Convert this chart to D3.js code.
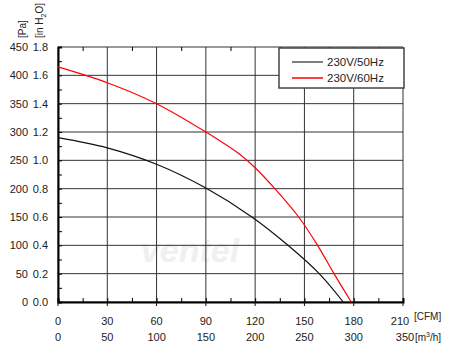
<!DOCTYPE html>
<html>
<head>
<meta charset="utf-8">
<script src="https://cdn.jsdelivr.net/npm/d3@7"></script>
<style>
  body { margin: 0; background: #fff; }
  text { font-family: "Liberation Sans", Arial, sans-serif; fill: #222; }
</style>
</head>
<body>
<div id="chart"></div>
<script>
// values (CFM, Pa)
var cfm50 = [0, 30, 60, 90, 118, 140, 159, 173.6];
var pa50  = [290, 272, 243, 201, 150, 100, 50, 0];
var cfm60 = [0, 30, 60, 90, 110, 120, 132, 146.5, 158, 168, 178.5];
var pa60  = [415, 387, 350, 300, 262, 237, 200, 150, 100, 50, 0];

var cfmTicks = [0, 30, 60, 90, 120, 150, 180, 210];
var m3hTicks = [0, 50, 100, 150, 200, 250, 300, 350];
var paTicks = [0, 50, 100, 150, 200, 250, 300, 350, 400, 450];
var inh2oTicks = [0.0, 0.2, 0.4, 0.6, 0.8, 1.0, 1.2, 1.4, 1.6, 1.8];

var seriesNames = ["230V/50Hz", "230V/60Hz"];
var seriesColors = ["#111", "#ff0000"];
var legendColors = ["#555", "#ff0000"];

var W = 450, H = 347;
var mLeft = 58, mRight = 403, mTop = 47, mBottom = 302;

var svg = d3.select("#chart").append("svg").attr("width", W).attr("height", H);

var x = d3.scaleLinear().domain([0, 210]).range([mLeft, mRight]);
var xm = d3.scaleLinear().domain([0, 350]).range([mLeft, mRight]);
var y = d3.scaleLinear().domain([0, 450]).range([mBottom, mTop]);

//---------------------------------------------------------------------
// watermark
svg.append("text").attr("x", 190).attr("y", 262)
  .attr("text-anchor", "middle")
  .style("font-size", "34px").style("font-style", "italic").style("font-weight", "bold")
  .style("fill", "#f0f0f0").text("ventel");

//---------------------------------------------------------------------
// grid
svg.append("g").selectAll("line").data(cfmTicks).enter().append("line")
  .attr("x1", d => x(d)).attr("x2", d => x(d))
  .attr("y1", mTop).attr("y2", mBottom)
  .style("stroke", "#333").style("stroke-width", 1);
svg.append("g").selectAll("line").data(paTicks).enter().append("line")
  .attr("x1", mLeft).attr("x2", mRight)
  .attr("y1", d => y(d)).attr("y2", d => y(d))
  .style("stroke", "#333").style("stroke-width", 1);

// axes, ticks pointing inward
var xAxis = d3.axisBottom(x).tickValues(d3.range(0, 211, 15)).tickSize(-4).tickFormat("");
svg.append("g").attr("transform", "translate(0," + mBottom + ")").call(xAxis)
  .call(g => g.select(".domain").style("stroke-width", 2));
var xAxisTop = d3.axisTop(x).tickValues(d3.range(15, 211, 30)).tickSize(-4).tickFormat("");
svg.append("g").attr("transform", "translate(0," + mTop + ")").call(xAxisTop)
  .call(g => g.select(".domain").remove());
var yAxis = d3.axisLeft(y).tickValues(d3.range(0, 451, 25)).tickSize(-4).tickFormat("");
svg.append("g").attr("transform", "translate(" + mLeft + ",0)").call(yAxis)
  .call(g => g.select(".domain").style("stroke-width", 2));

// major tick stubs below bottom axis
svg.append("g").selectAll("line").data(cfmTicks).enter().append("line")
  .attr("x1", d => x(d)).attr("x2", d => x(d))
  .attr("y1", mBottom).attr("y2", mBottom + 4).style("stroke", "#111");

// tick labels
svg.append("g").selectAll("text").data(cfmTicks).enter().append("text")
  .attr("x", d => x(d) - (d == 210 ? 3 : 0)).attr("y", 325).attr("text-anchor", "middle")
  .style("font-size", "11px").text(d => d);
svg.append("g").selectAll("text").data(m3hTicks).enter().append("text")
  .attr("x", d => xm(d) + (d == 350 ? 2 : 0)).attr("y", 341).attr("text-anchor", "middle")
  .style("font-size", "11px").text(d => d);
svg.append("g").selectAll("text").data(paTicks).enter().append("text")
  .attr("x", 28).attr("y", d => y(d) + 4).attr("text-anchor", "end")
  .style("font-size", "11px").text(d => d);
svg.append("g").selectAll("text").data(inh2oTicks).enter().append("text")
  .attr("x", 48).attr("y", (d, i) => y(paTicks[i]) + 4).attr("text-anchor", "end")
  .style("font-size", "11px").text(d => d.toFixed(1));

// unit labels
svg.append("text").attr("x", 414).attr("y", 320).style("font-size", "10px").text("[CFM]");
var m3 = svg.append("text").attr("x", 415).attr("y", 341).style("font-size", "10px");
m3.append("tspan").text("[m");
m3.append("tspan").attr("dy", -4).style("font-size", "7px").text("3");
m3.append("tspan").attr("dy", 4).text("/h]");
svg.append("text").attr("transform", "translate(26,38) rotate(-90)").style("font-size", "10px").text("[Pa]");
var inh = svg.append("text").attr("transform", "translate(43,38) rotate(-90)").style("font-size", "10px");
inh.append("tspan").text("[in H");
inh.append("tspan").attr("dy", 3).style("font-size", "7px").text("2");
inh.append("tspan").attr("dy", -3).text("O]");

//---------------------------------------------------------------------
// curves
var line = d3.line().x(d => x(d[0])).y(d => y(d[1])).curve(d3.curveCatmullRom);
var series = [d3.zip(cfm50, pa50), d3.zip(cfm60, pa60)];
svg.append("g").selectAll("path").data(series).enter().append("path")
  .attr("d", line).style("fill", "none")
  .style("stroke", (d, i) => seriesColors[i]).style("stroke-width", 1.2);

//---------------------------------------------------------------------
// legend
var lg = svg.append("g");
lg.append("rect").attr("x", 279).attr("y", 48).attr("width", 125).attr("height", 40)
  .style("fill", "#fff").style("stroke", "#444").style("stroke-width", 1.5);
seriesNames.forEach(function(name, i){
  var ly = 62 + i * 16;
  lg.append("line").attr("x1", 292).attr("x2", 323).attr("y1", ly).attr("y2", ly)
    .style("stroke", legendColors[i]).style("stroke-width", 1.5);
  lg.append("text").attr("x", 327).attr("y", ly + 4).style("font-size", "11.5px").text(name);
});
</script>
</body>
</html>
